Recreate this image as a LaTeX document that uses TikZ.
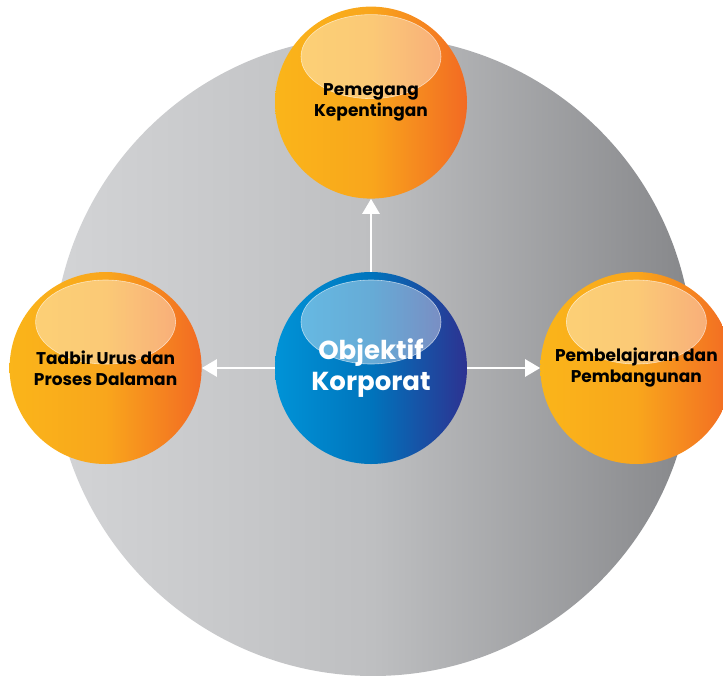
\documentclass[tikz,border=0pt]{standalone}
\usepackage{fontspec}
\setmainfont{Poppins}
\usetikzlibrary{positioning, arrows.meta}
\definecolor{discLight}{HTML}{D3D4D6}
\definecolor{discMid}{HTML}{BEBFC1}
\definecolor{discDark}{HTML}{86878A}
\definecolor{ballYellow}{HTML}{FAB51A}
\definecolor{ballMid}{HTML}{F9A61C}
\definecolor{ballOrange}{HTML}{F26A23}
\definecolor{coreBlue}{HTML}{0093D7}
\definecolor{coreMid}{HTML}{0074BC}
\definecolor{coreNavy}{HTML}{2D3291}

\begin{document}
\begin{tikzpicture}[x=1pt, y=-1pt, node distance=73pt,
  backdrop/.style={circle, minimum size=640pt, inner sep=0pt,
    left color=discLight, right color=discDark, middle color=discMid},
  ball/.style={circle, minimum size=192pt, inner sep=0pt, align=center,
    path picture={\fill[white, fill opacity=.4, draw=white, draw opacity=.6, line width=.6pt]
      ([yshift=46pt]path picture bounding box.center) ellipse (70pt and 42pt);}},
  goal/.style={ball, left color=ballYellow, right color=ballOrange, middle color=ballMid,
    font=\fontsize{17}{21}\selectfont\bfseries},
  core/.style={ball, left color=coreBlue, right color=coreNavy, middle color=coreMid,
    text=white, font=\fontsize{26}{31}\selectfont\bfseries},
  link/.style={draw=white, line width=2.5pt, -{Triangle[width=17pt,length=15pt]}}]
\useasboundingbox (0,0) rectangle (723,675);
\node[backdrop] (disc) at (373,356) {};
\node[core] (obj) at (371,368) {Objektif\\Korporat};
\node[goal, above=of obj] (stake) {Pemegang\\Kepentingan};
\node[goal, left=of obj] (gov) {Tadbir Urus dan\\Proses Dalaman};
\node[goal, right=of obj] (learn) {Pembelajaran dan\\Pembangunan};
\draw[link] (obj) -- (stake);
\draw[link] (obj) -- (gov);
\draw[link] (obj) -- (learn);
\end{tikzpicture}
\end{document}
